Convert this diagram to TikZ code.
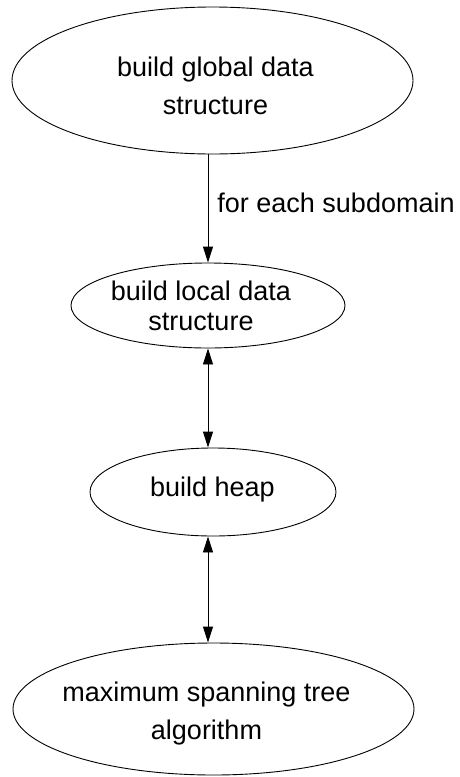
\documentclass[tikz,border=0pt]{standalone}
\usepackage{fontspec}
\setmainfont{Liberation Sans}
\usetikzlibrary{shapes.geometric,arrows.meta}
\tikzset{
  oval/.style={ellipse, draw=black, line width=0.9pt, inner sep=0pt},
  lbl/.style={align=center, inner sep=0pt, text=black},
  conn/.style={line width=0.9pt, draw=black},
  tip/.style={-{Triangle[length=16pt,width=10pt]}},
  tips/.style={{Triangle[length=16pt,width=10pt]}-{Triangle[length=16pt,width=10pt]}}
}
\begin{document}
\begin{tikzpicture}[x=1pt,y=-1pt]
\useasboundingbox (0,0) rectangle (460,777);
\fill[white] (0,0) rectangle (460,777);
% ellipses
\node[oval, minimum width=401pt, minimum height=147pt] (e1) at (212.5,80.5) {};
\node[oval, minimum width=274pt, minimum height=85pt] (e2) at (208,305.5) {};
\node[oval, minimum width=246pt, minimum height=88pt] (e3) at (213,492) {};
\node[oval, minimum width=401pt, minimum height=132pt] (e4) at (213.5,709) {};
% texts
\node[lbl, font=\fontsize{27}{38}\selectfont] (t1) at (215.5,86) {build global data\\structure};
\node[lbl, font=\fontsize{27}{30}\selectfont] (t2) at (201,305.5) {build local data\\structure};
\node[lbl, font=\fontsize{27}{32}\selectfont] (t3) at (212.5,490) {build heap};
\node[lbl, font=\fontsize{27}{38}\selectfont] (t4) at (206.5,714) {maximum spanning tree\\algorithm};
% connectors
\coordinate (ax) at (208,0);
\draw[conn, tip] (ax |- e1.south) -- (ax |- e2.north)
  node[pos=0.45, right=9pt, font=\fontsize{27}{32}\selectfont, inner sep=0pt] (l1) {for each subdomain};
\draw[conn, tips] (ax |- e2.south) -- (ax |- e3.north);
\draw[conn, tips] (ax |- e3.south) -- (ax |- e4.north);
\end{tikzpicture}
\end{document}
